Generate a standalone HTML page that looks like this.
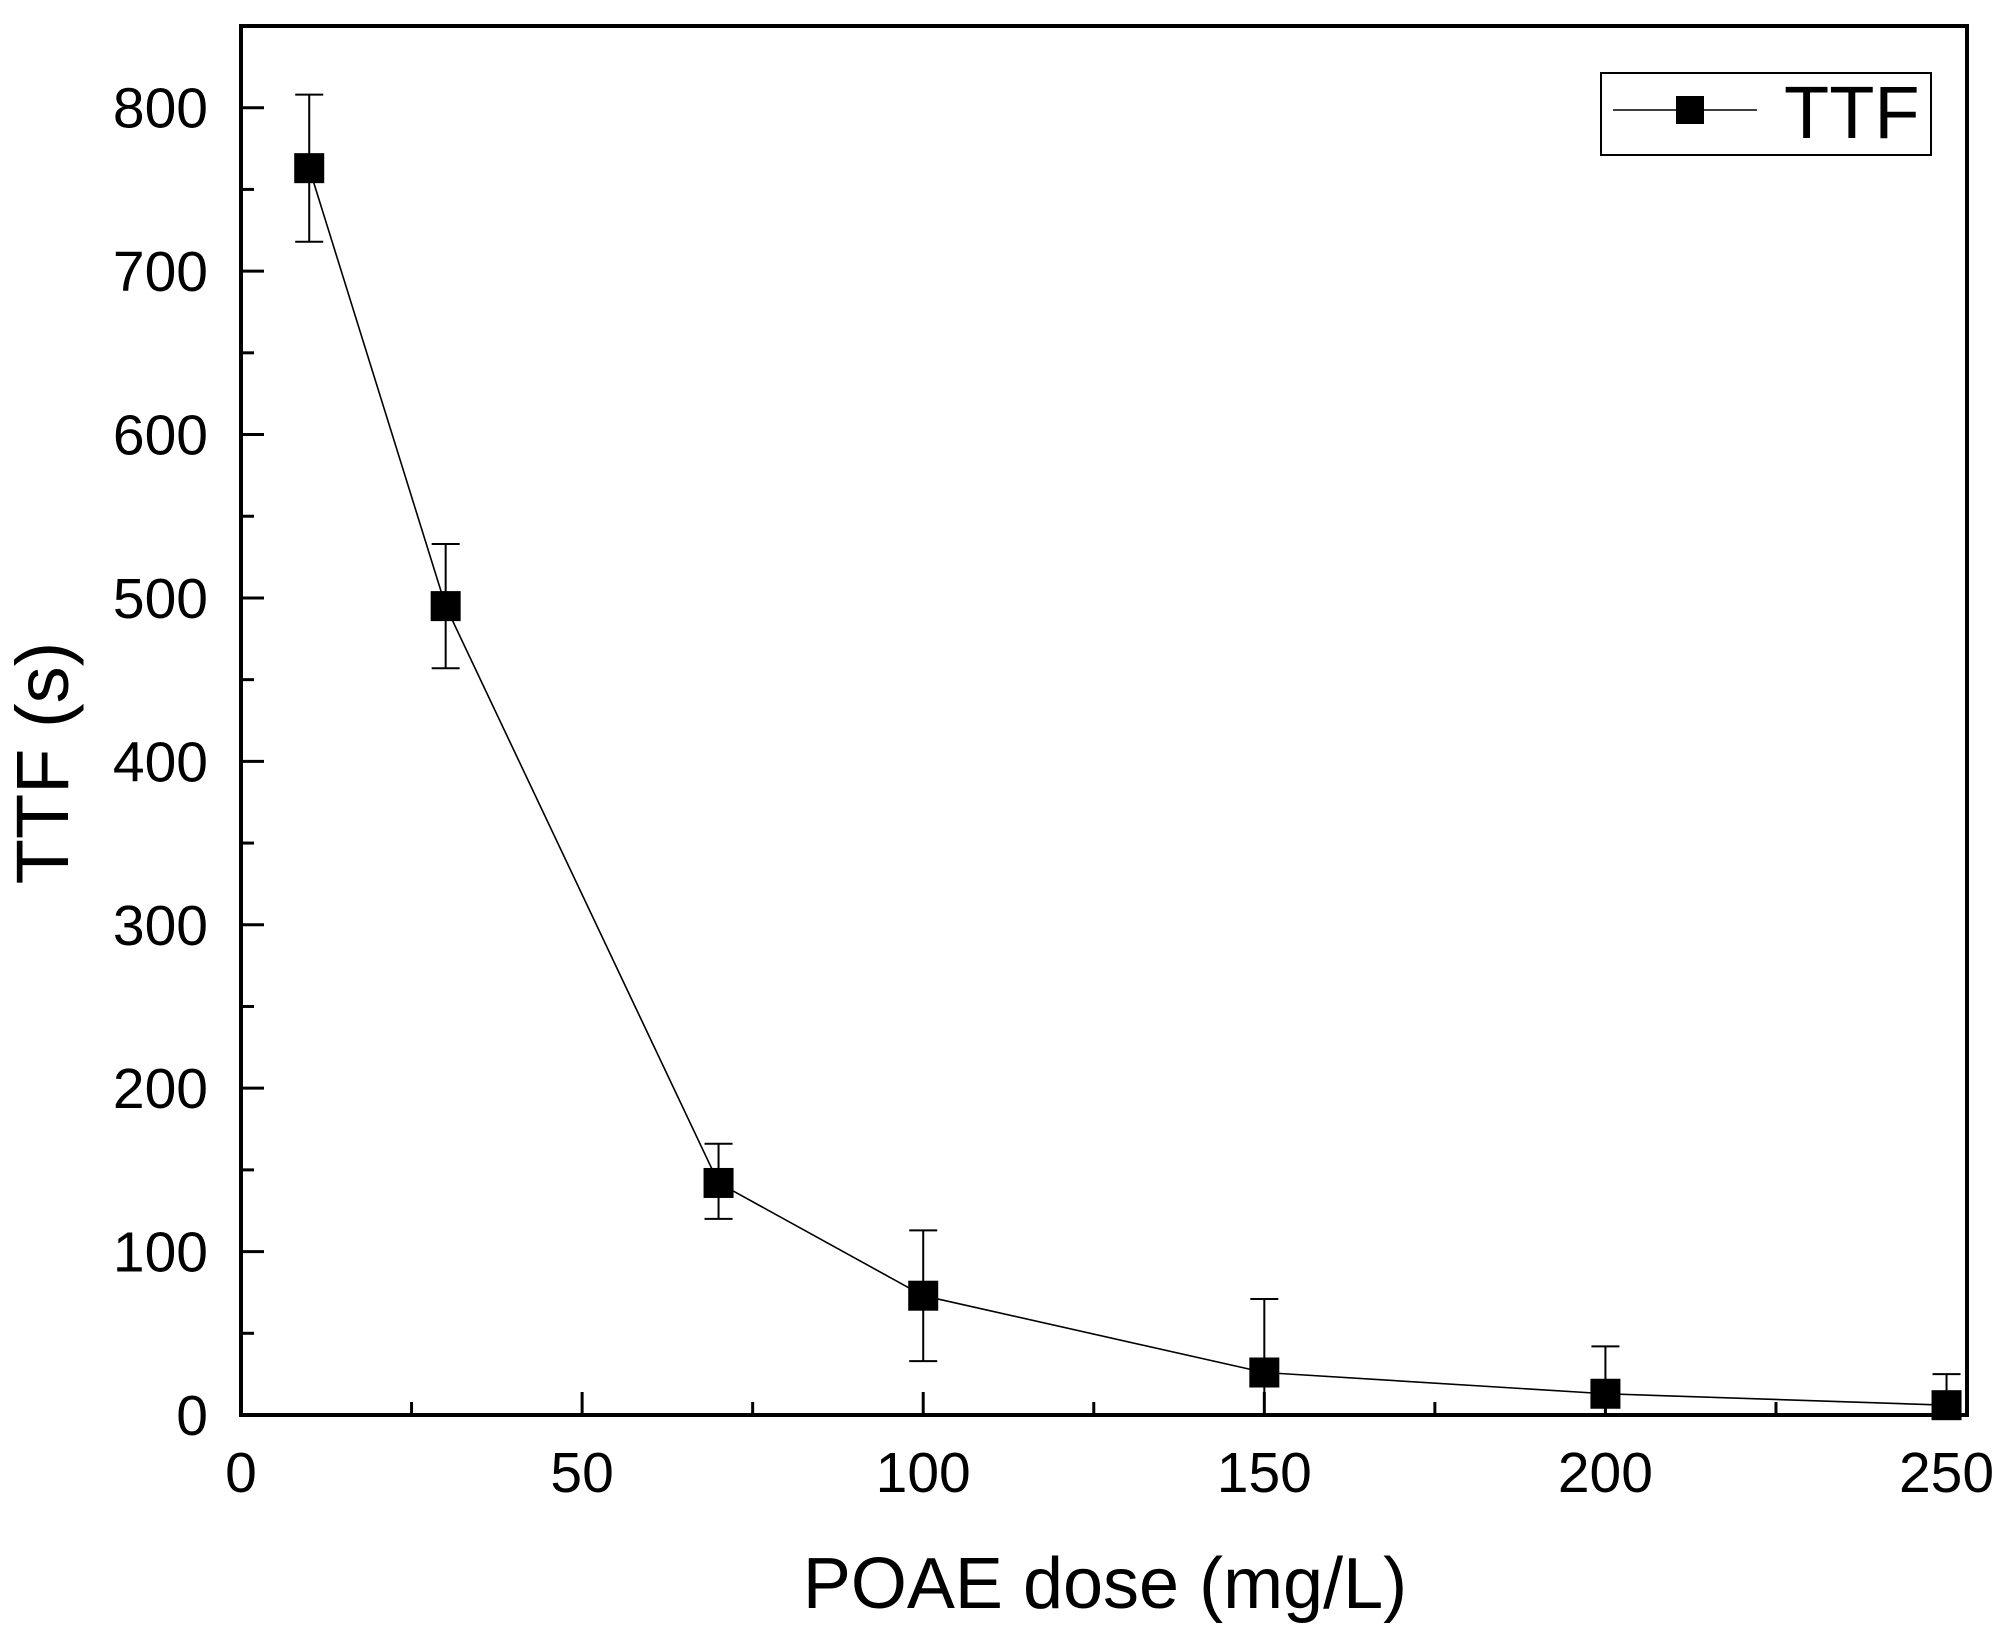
<!DOCTYPE html>
<html><head><meta charset="utf-8"><style>
html,body{margin:0;padding:0;background:#fff;}
svg{display:block;font-family:"Liberation Sans",Arial,sans-serif;}
</style></head><body>
<svg id="chart" width="2011" height="1633" viewBox="0 0 2011 1633" xmlns="http://www.w3.org/2000/svg">
<g id="ticks"></g>
<g id="errs"></g>
<polyline id="line" fill="none" stroke="#000" stroke-width="1.6"/>
<g id="marks"></g>
<rect x="241" y="26" width="1726" height="1389" fill="none" stroke="#000" stroke-width="4"/>
<text x="1105" y="1608" font-size="72" text-anchor="middle">POAE dose (mg/L)</text>
<text transform="translate(68,763) rotate(-90)" font-size="74" text-anchor="middle">TTF (s)</text>
<g>
<rect x="1601" y="73" width="330" height="82" fill="#fff" stroke="#000" stroke-width="2"/>
<line x1="1613" y1="110" x2="1757" y2="110" stroke="#000" stroke-width="1.6"/>
<rect x="1676" y="96" width="28" height="28" fill="#000"/>
<text x="1784" y="138" font-size="74">TTF</text>
</g>
</svg>
<script>
const doses=[10,30,70,100,150,200,250];
const ttf=[763,495,142,73,26,13,6];
const errUp=[45,38,24,40,45,29,19];
const errDown=[45,38,22,40,45,29,19];
const xTicks=[0,50,100,150,200,250];
const yTicks=[0,100,200,300,400,500,600,700,800];
const NS="http://www.w3.org/2000/svg";
const X0=241,X1=1967,Y0=1415,Y1=26,XMAX=253,YMAX=850;
const sx=v=>X0+(v/XMAX)*(X1-X0);
const sy=v=>Y0-(v/YMAX)*(Y0-Y1);
function mk(tag,attrs,parent){const e=document.createElementNS(NS,tag);for(const k in attrs)e.setAttribute(k,attrs[k]);parent.appendChild(e);return e;}
const tg=document.getElementById('ticks');
xTicks.forEach(v=>{
  const l=mk('line',{x1:sx(v),x2:sx(v),y1:Y0,y2:Y0-23,stroke:'#000','stroke-width':3},tg);
  
  
  const t=mk('text',{x:sx(v),y:1492,'font-size':57,'text-anchor':'middle'},tg);
  t.textContent=v;
  
  
  if(v+25<XMAX){const m=mk('line',{x1:sx(v+25),x2:sx(v+25),y1:Y0,y2:Y0-13,stroke:'#000','stroke-width':3},tg);
  
  }
});
yTicks.forEach(v=>{
  const l=mk('line',{x1:X0,x2:X0+23,y1:sy(v),y2:sy(v),stroke:'#000','stroke-width':3},tg);
  
  
  const t=mk('text',{x:208,y:sy(v)+20,'font-size':57,'text-anchor':'end'},tg);
  t.textContent=v;
  
  
  if(v+50<YMAX){const m=mk('line',{x1:X0,x2:X0+13,y1:sy(v+50),y2:sy(v+50),stroke:'#000','stroke-width':3},tg);
  
  }
});
const eg=document.getElementById('errs'),mg=document.getElementById('marks');
const pts=[];
doses.forEach((d,i)=>{
  const x=sx(d),y=sy(ttf[i]);pts.push(x+','+y);
  const top=sy(ttf[i]+errUp[i]),bot=Math.min(Y0,sy(ttf[i]-errDown[i]));
  const e=mk('path',{d:`M${x},${top}V${bot}M${x-14},${top}H${x+14}M${x-14},${bot}H${x+14}`,stroke:'#000','stroke-width':2,fill:'none'},eg);
  
  
  const r=mk('rect',{x:x-15,y:y-15,width:30,height:30,fill:'#000'},mg);
  
  
});
document.getElementById('line').setAttribute('points',pts.join(' '));
</script>
</body></html>
